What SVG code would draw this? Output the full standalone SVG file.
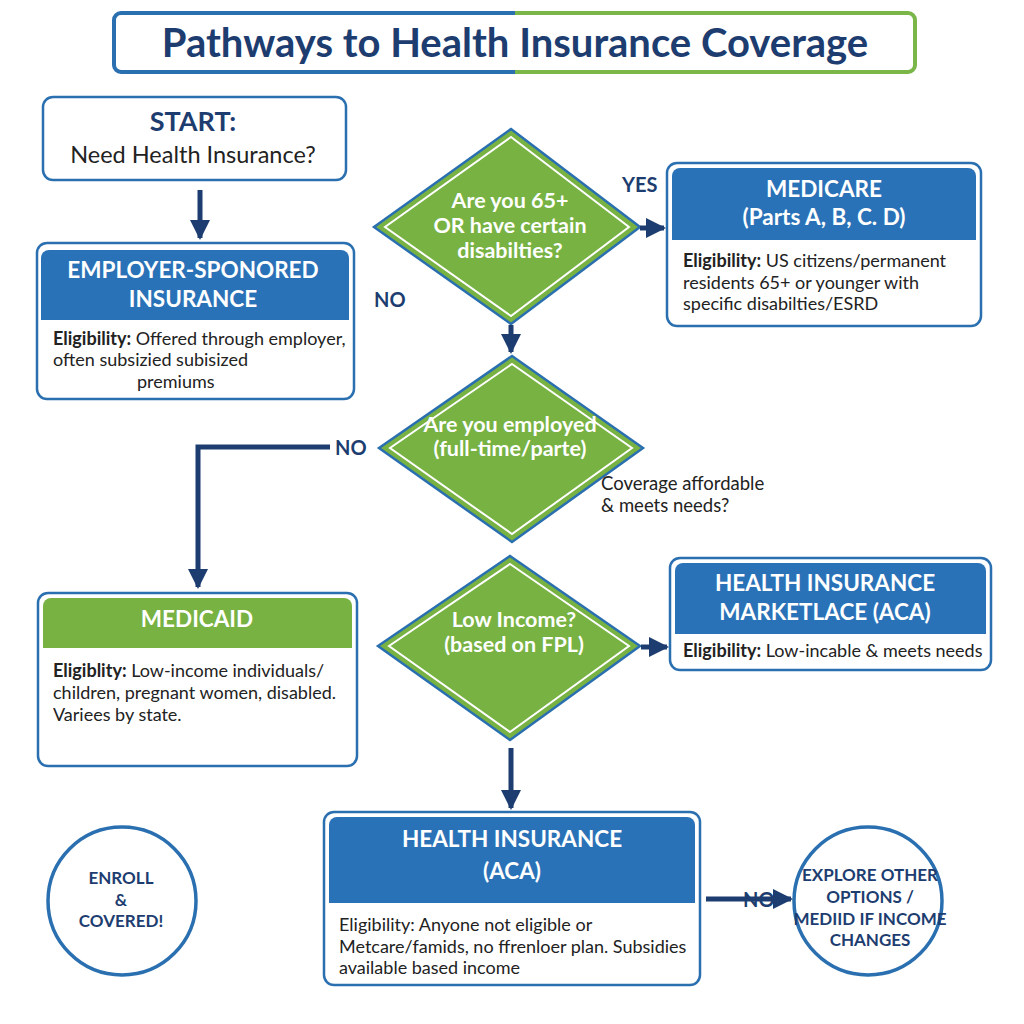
<svg xmlns="http://www.w3.org/2000/svg" width="1024" height="1024" viewBox="0 0 1024 1024">
<defs>
<linearGradient id="titleStroke" x1="0" y1="0" x2="1" y2="0">
<stop offset="0.5" stop-color="#2a6fb0"/><stop offset="0.5" stop-color="#7ab648"/>
</linearGradient>
<marker id="ah" viewBox="0 0 10 10" refX="9" refY="5" markerWidth="4" markerHeight="4" orient="auto" markerUnits="strokeWidth">
<path d="M0,0 L10,5 L0,10 Z" fill="#1d3d70"/>
</marker>
</defs>
<style>
text{font-family:Lato,"Open Sans","Liberation Sans",sans-serif}
.box{fill:#fff;stroke:#2a6fb0;stroke-width:2.5}
.hdr{fill:#2a72b8}
.ghdr{fill:#77b243}
.ht{fill:#fff;font-weight:700;font-size:22.5px;text-anchor:middle}
.bt{fill:#222;font-size:18px}
.bt tspan.b{font-weight:700}
.dia{fill:#77b243;stroke:#2a6fb0;stroke-width:2.5}
.dt{fill:#fff;font-weight:700;font-size:21.5px;text-anchor:middle}
.lbl{fill:#1d3d70;font-weight:700;font-size:20px}
.conn{stroke:#1d3d70;stroke-width:5;fill:none}
.circ{fill:#fff;stroke:#2a6fb0;stroke-width:3.5}
.ct{fill:#1d3d70;font-weight:700;font-size:17px;text-anchor:middle}
</style>
<rect width="1024" height="1024" fill="#fff"/>

<g id="title">
<rect x="114" y="13" width="801" height="59" rx="7" fill="#fff" stroke="url(#titleStroke)" stroke-width="4"/>
<text x="515" y="57" text-anchor="middle" font-size="40" font-weight="700" fill="#1d3d70">Pathways to Health Insurance Coverage</text>
</g>

<g id="start">
<rect class="box" x="43" y="97" width="303" height="83" rx="10"/>
<text x="193" y="131" text-anchor="middle" font-size="27" font-weight="700" fill="#1d3d70">START:</text>
<text x="193" y="163" text-anchor="middle" font-size="23.5" fill="#222">Need Health Insurance?</text>
</g>

<g id="employer">
<rect class="box" x="37" y="243" width="317" height="156" rx="10"/>
<path class="hdr" d="M41,258 a8,8 0 0 1 8,-8 h292 a8,8 0 0 1 8,8 v62 h-308 z"/>
<text class="ht" x="193" y="278">EMPLOYER-SPONORED</text>
<text class="ht" x="193" y="307">INSURANCE</text>
<text class="bt" x="53" y="345"><tspan class="b">Eligibility:</tspan> Offered through employer,</text>
<text class="bt" x="53" y="366">often subsizied subisized</text>
<text class="bt" x="137" y="388">premiums</text>
</g>

<g id="q-age">
<polygon class="dia" points="511,129 640,227 511,324 374,227"/>
<polygon points="511,137 629,227 511,316 385,227" fill="none" stroke="#fff" stroke-width="2"/>
<text class="dt" x="510" y="208">Are you 65+</text>
<text class="dt" x="510" y="233">OR have certain</text>
<text class="dt" x="510" y="258">disabilties?</text>
</g>

<g id="medicare">
<rect class="box" x="667" y="163" width="314" height="163" rx="10"/>
<path class="hdr" d="M672,176 a8,8 0 0 1 8,-8 h288 a8,8 0 0 1 8,8 v64 h-304 z"/>
<text class="ht" x="824" y="197">MEDICARE</text>
<text class="ht" x="824" y="225">(Parts A, B, C. D)</text>
<text class="bt" x="683" y="267"><tspan class="b">Eligibility:</tspan> US citizens/permanent</text>
<text class="bt" x="683" y="289">residents 65+ or younger with</text>
<text class="bt" x="683" y="310">specific disabilties/ESRD</text>
</g>

<g id="q-employed">
<polygon class="dia" points="512,356 643,448 512,542 379,448"/>
<polygon points="512,364 632,448 512,534 390,448" fill="none" stroke="#fff" stroke-width="2"/>
<text class="dt" x="510" y="432">Are you employed</text>
<text class="dt" x="510" y="456">(full-time/parte)</text>
</g>

<g id="medicaid">
<rect class="box" x="38" y="593" width="319" height="173" rx="10"/>
<path class="ghdr" d="M43,606 a8,8 0 0 1 8,-8 h293 a8,8 0 0 1 8,8 v42 h-309 z"/>
<text class="ht" x="197" y="627">MEDICAID</text>
<text class="bt" x="53" y="677"><tspan class="b">Eligiblity:</tspan> Low-income individuals/</text>
<text class="bt" x="53" y="699">children, pregnant women, disabled.</text>
<text class="bt" x="53" y="721">Variees by state.</text>
</g>

<g id="q-income">
<polygon class="dia" points="510,556 640,646 510,740 378,646"/>
<polygon points="510,564 629,646 510,732 389,646" fill="none" stroke="#fff" stroke-width="2"/>
<text class="dt" x="514" y="627">Low Income?</text>
<text class="dt" x="514" y="652">(based on FPL)</text>
</g>

<g id="marketplace">
<rect class="box" x="670" y="558" width="321" height="112" rx="10"/>
<path class="hdr" d="M675,571 a8,8 0 0 1 8,-8 h295 a8,8 0 0 1 8,8 v63 h-311 z"/>
<text class="ht" x="825" y="591">HEALTH INSURANCE</text>
<text class="ht" x="825" y="620">MARKETLACE (ACA)</text>
<text class="bt" x="683" y="657"><tspan class="b">Eligibility:</tspan> Low-incable &amp; meets needs</text>
</g>

<g id="aca">
<rect class="box" x="324" y="812" width="376" height="173" rx="10"/>
<path class="hdr" d="M329,825 a8,8 0 0 1 8,-8 h350 a8,8 0 0 1 8,8 v78 h-366 z"/>
<text class="ht" x="512" y="847">HEALTH INSURANCE</text>
<text class="ht" x="512" y="879">(ACA)</text>
<text class="bt" x="339" y="931" font-size="18.5">Eligibility: Anyone not eligible or</text>
<text class="bt" x="339" y="953" font-size="18.5">Metcare/famids, no ffrenloer plan. Subsidies</text>
<text class="bt" x="339" y="974" font-size="18.5">available based income</text>
</g>

<g id="enroll">
<circle class="circ" cx="122" cy="901" r="74"/>
<text class="ct" x="121" y="884">ENROLL</text>
<text class="ct" x="121" y="906">&amp;</text>
<text class="ct" x="121" y="927">COVERED!</text>
</g>

<g id="explore">
<circle class="circ" cx="868" cy="901" r="74"/>
<text class="ct" x="870" y="881">EXPLORE OTHER</text>
<text class="ct" x="870" y="903">OPTIONS /</text>
<text class="ct" x="870" y="925">MEDIID IF INCOME</text>
<text class="ct" x="870" y="946">CHANGES</text>
</g>

<g id="connectors">
<line class="conn" x1="200" y1="190" x2="200" y2="238" marker-end="url(#ah)"/>
<line class="conn" x1="640" y1="228" x2="664" y2="228" marker-end="url(#ah)"/>
<line class="conn" x1="511" y1="325" x2="511" y2="352" marker-end="url(#ah)"/>
<polyline class="conn" points="330,447 198,447 198,587" marker-end="url(#ah)"/>
<line class="conn" x1="641" y1="647" x2="667" y2="647" marker-end="url(#ah)"/>
<line class="conn" x1="511" y1="748" x2="511" y2="808" marker-end="url(#ah)"/>
<line class="conn" x1="706" y1="899" x2="791" y2="899" marker-end="url(#ah)"/>
<text class="lbl" x="622" y="192">YES</text>
<text class="lbl" x="374" y="307">NO</text>
<text class="lbl" x="335" y="455">NO</text>
<text class="lbl" x="743" y="907" font-size="19">NO</text>
<text x="601" y="490" font-size="18.5" fill="#222">Coverage affordable</text>
<text x="601" y="512" font-size="18.5" fill="#222">&amp; meets needs?</text>
</g>
</svg>
